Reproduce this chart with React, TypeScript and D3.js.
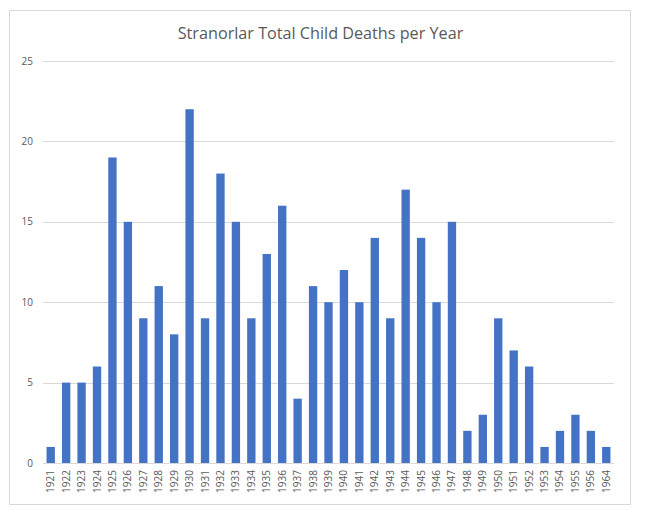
import React from "react";
import * as d3 from "d3";

const years = ["1921","1922","1923","1924","1925","1926","1927","1928","1929","1930","1931","1932","1933","1934","1935","1936","1937","1938","1939","1940","1941","1942","1943","1944","1945","1946","1947","1948","1949","1950","1951","1952","1953","1954","1955","1956","1964"];
const deaths = [1,5,5,6,19,15,9,11,8,22,9,18,15,9,13,16,4,11,10,12,10,14,9,17,14,10,15,2,3,9,7,6,1,2,3,2,1];
const yTicks = [0,5,10,15,20,25];
const title = "Stranorlar Total Child Deaths per Year";

export default function App() {
  const W = 650, H = 518;
  const left = 43, right = 614, top = 61, bottom = 463;
  const x = d3.scaleBand<string>().domain(years).range([left, right]).paddingInner(0.46).paddingOuter(0.23);
  const y = d3.scaleLinear().domain([0, 25]).range([bottom, top]);
  const font = "'Open Sans', 'Liberation Sans', sans-serif";
  const textColor = "#595959";
  return (
    <svg width={W} height={H} style={{ position: "absolute", left: 0, top: 0 }} fontFamily={font}>
      <rect x={0} y={0} width={W} height={H} fill="#fff" />
      <rect x={9.5} y={10.5} width={621} height={494} fill="#fff" stroke="#d9d9d9" strokeWidth={1} />
      <text x={320.5} y={39} textAnchor="middle" fontSize={16.2} fill={textColor}>{title}</text>
      {yTicks.map((t) => (
        <g key={t}>
          <line x1={left} x2={right} y1={Math.round(y(t)) + 0.5} y2={Math.round(y(t)) + 0.5} stroke="#d9d9d9" strokeWidth={1} />
          <text x={33} y={y(t)} dy="0.35em" textAnchor="end" fontSize={10} fill={textColor}>{t}</text>
        </g>
      ))}
      {years.map((yr, i) => (
        <rect key={yr} x={x(yr)} y={y(deaths[i])} width={x.bandwidth()} height={y(0) - y(deaths[i])} fill="#4472C4" />
      ))}
      {years.map((yr) => {
        const cx = (x(yr) as number) + x.bandwidth() / 2;
        return (
          <text key={yr} transform={`translate(${cx},${470}) rotate(-90)`} textAnchor="end" dy="0.35em" fontSize={10} fill={textColor}>{yr}</text>
        );
      })}
    </svg>
  );
}
